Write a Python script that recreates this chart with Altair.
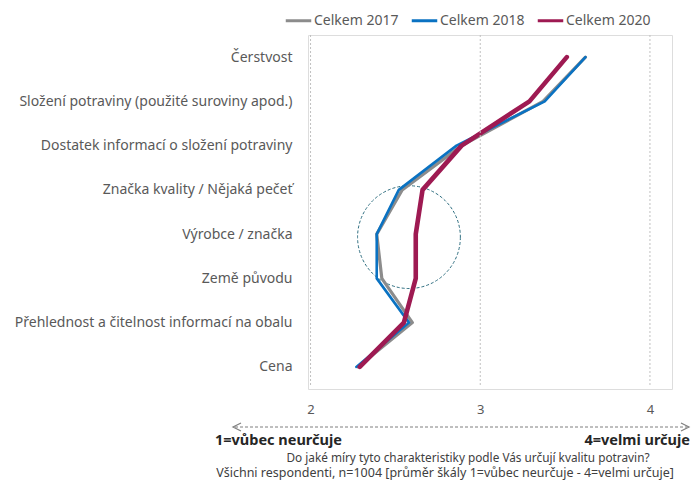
import altair as alt
import pandas as pd

categories = [
    "Čerstvost",
    "Složení potraviny (použité suroviny apod.)",
    "Dostatek informací o složení potraviny",
    "Značka kvality / Nějaká pečeť",
    "Výrobce / značka",
    "Země původu",
    "Přehlednost a čitelnost informací na obalu",
    "Cena",
]
series = ["Celkem 2017", "Celkem 2018", "Celkem 2020"]
v2017 = [3.62, 3.37, 2.89, 2.54, 2.39, 2.42, 2.60, 2.28]
v2018 = [3.62, 3.38, 2.86, 2.52, 2.39, 2.39, 2.58, 2.27]
v2020 = [3.51, 3.29, 2.89, 2.66, 2.62, 2.62, 2.55, 2.29]
x_ticks = [2, 3, 4]

colors = ["#8C8C8C", "#0A72C2", "#9E1A52"]
widths = [3.2, 2.6, 4.6]

rows = []
for s, vals in zip(series, [v2017, v2018, v2020]):
    for i, (c, v) in enumerate(zip(categories, vals)):
        rows.append({"serie": s, "kategorie": c, "idx": i, "hodnota": v})
df = pd.DataFrame(rows)

FONT = "Noto Sans"
W, H = 364, 354
LEFT = 308

xscale = alt.Scale(domain=[1.985, 4.13], nice=False, zero=False)
yscale = alt.Scale(domain=categories, type="point", padding=0.5)
cscale = alt.Scale(domain=series, range=colors)

grid = alt.Chart(pd.DataFrame({"g": x_ticks})).mark_rule(
    stroke="#C0C0C0", strokeDash=[2, 2], strokeWidth=1
).encode(
    x=alt.X("g:Q", scale=xscale,
            axis=alt.Axis(values=x_ticks, title=None, domain=False, ticks=False,
                          grid=False, format="d", labelOverlap=False,
                          labelPadding=14, labelFontSize=13, labelColor="#595959",
                          labelFont=FONT)),
    y=alt.value(0), y2=alt.value(H - 3),
)

yaxis = alt.Axis(title=None, domain=False, ticks=False, grid=False,
                 labelPadding=16, labelFontSize=14, labelColor="#595959",
                 labelFont=FONT, labelLimit=400)

layers = []
for s, col, w in zip(series, colors, widths):
    layers.append(
        alt.Chart(df).transform_filter(alt.datum.serie == s).mark_line(
            strokeCap="round", strokeJoin="round", strokeWidth=w
        ).encode(
            x=alt.X("hodnota:Q", scale=xscale),
            y=alt.Y("kategorie:N", scale=yscale, sort=categories, axis=yaxis),
            color=alt.Color("serie:N", scale=cscale,
                            legend=alt.Legend(title=None, orient="none", direction="horizontal",
                                              legendX=-24, legendY=-29, symbolType="stroke",
                                              symbolSize=650, symbolStrokeWidth=3,
                                              labelFontSize=14, labelFont=FONT,
                                              labelColor="#595959", labelOffset=1,
                                              columnPadding=6)),
            order=alt.Order("idx:Q"),
        )
    )

circle = alt.Chart(pd.DataFrame({"x": [2.58], "y": [categories[4]]})).mark_point(
    shape="circle", size=10570, filled=False, stroke="#2E6E80", strokeWidth=1,
    strokeDash=[3, 2], yOffset=3, opacity=1,
).encode(x=alt.X("x:Q", scale=xscale),
         y=alt.Y("y:N", scale=yscale, sort=categories, axis=yaxis))

OX = LEFT
arrow = alt.Chart(pd.DataFrame({"a": [0]})).mark_rule(
    stroke="#7F7F7F", strokeDash=[3, 2], strokeWidth=1
).encode(x=alt.value(235 - OX), x2=alt.value(687 - OX), y=alt.value(392))

left_head = alt.Chart(pd.DataFrame({"a": [0]})).mark_point(
    shape="M1,-1L-1,0L1,1", size=64, filled=False, stroke="#7F7F7F", strokeWidth=1.2,
    opacity=1,
).encode(x=alt.value(237 - OX), y=alt.value(392))
right_head = alt.Chart(pd.DataFrame({"a": [0]})).mark_point(
    shape="M-1,-1L1,0L-1,1", size=64, filled=False, stroke="#7F7F7F", strokeWidth=1.2,
    opacity=1,
).encode(x=alt.value(685 - OX), y=alt.value(392))

bold_left = alt.Chart(pd.DataFrame({"t": ["1=vůbec neurčuje"]})).mark_text(
    align="left", baseline="middle", fontSize=14.5, fontWeight="bold", font=FONT,
    color="#262626",
).encode(text="t:N", x=alt.value(215 - OX), y=alt.value(406))
bold_right = alt.Chart(pd.DataFrame({"t": ["4=velmi určuje"]})).mark_text(
    align="right", baseline="middle", fontSize=14.5, fontWeight="bold", font=FONT,
    color="#262626",
).encode(text="t:N", x=alt.value(690 - OX), y=alt.value(406))

cap1 = alt.Chart(pd.DataFrame({"t": ["Do jaké míry tyto charakteristiky podle Vás určují kvalitu potravin?"]})).mark_text(
    align="center", baseline="middle", fontSize=11.8, font=FONT, color="#404040",
).encode(text="t:N", x=alt.value(468 - OX), y=alt.value(423))
cap2 = alt.Chart(pd.DataFrame({"t": ["Všichni respondenti, n=1004 [průměr škály 1=vůbec neurčuje - 4=velmi určuje]"]})).mark_text(
    align="center", baseline="middle", fontSize=12.5, font=FONT, color="#404040",
).encode(text="t:N", x=alt.value(445 - OX), y=alt.value(438))

chart = alt.layer(
    circle, *layers, arrow, left_head, right_head, bold_left, bold_right, cap1, cap2, grid
).properties(
    width=W, height=H,
    autosize=alt.AutoSizeParams(type="none"),
    padding={"left": LEFT, "top": 35, "right": 692 - LEFT - W, "bottom": 491 - 35 - H},
).configure_view(stroke=None).configure(background="white")

chart.save("out.html", embed_options={"renderer": "svg", "actions": False})
